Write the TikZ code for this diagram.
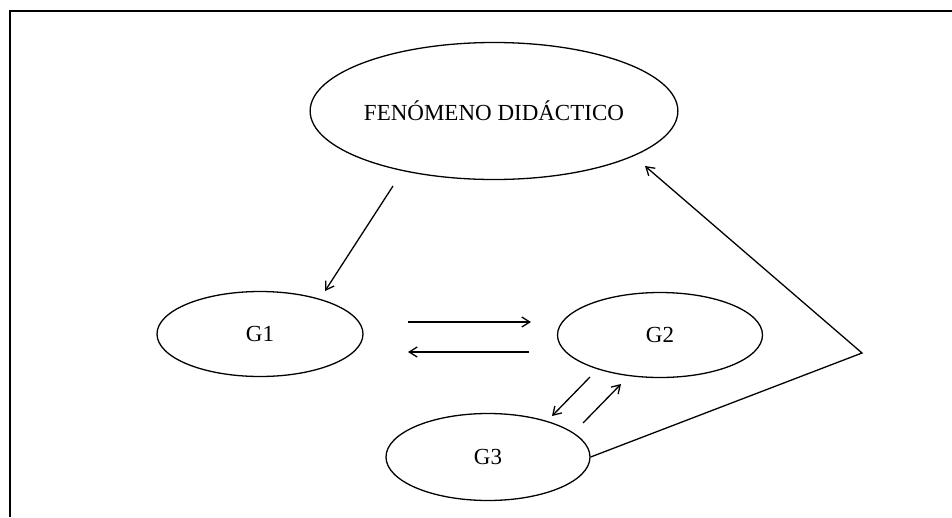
\documentclass[tikz,border=0pt]{standalone}
\usepackage{fontspec}
\setmainfont{Liberation Serif}
\usetikzlibrary{shapes.geometric,arrows.meta}
\begin{document}
\begin{tikzpicture}[x=1pt,y=-1pt,
  lbl/.style={ellipse,draw,line width=1.3pt,inner sep=0pt,font=\fontsize{23}{27}\selectfont},
  arr/.style={line width=1.3pt,-{Straight Barb[length=8pt,width=10pt,line width=1.3pt]}},
  link/.style={line width=1.3pt}]
  \useasboundingbox (0,0) rectangle (952,517);
  % page frame
  \draw[line width=1.8pt] (10,517) -- (10,11) -- (952,11);

  % groups and the phenomenon
  \node[lbl,minimum width=313pt,minimum height=137pt] (fen) at (494,111) {FENÓMENO DIDÁCTICO};
  \node[lbl,minimum width=206pt,minimum height=85pt] (g1) at (260,334) {G1};
  \node[lbl,minimum width=205pt,minimum height=85pt] (g2) at (660,335) {G2};
  \node[lbl,minimum width=204pt,minimum height=87pt] (g3) at (488,457) {G3};

  % connector end points
  \coordinate (fenOut) at (393,186);
  \coordinate (g1In) at (325,291);
  \coordinate (g1R) at (408,322);
  \coordinate (g2L) at (531,322);
  \coordinate (g2Lb) at (529,352);
  \coordinate (g1Rb) at (408,352);
  \coordinate (g2Out) at (590,377);
  \coordinate (g3In) at (552,416);
  \coordinate (g3Out) at (583,423);
  \coordinate (g2In) at (621,384);
  \coordinate (bend) at (862,353);
  \coordinate (fenIn) at (645,166);

  \draw[arr] (fenOut) -- (g1In);
  \draw[arr] (g1R) -- (g2L);
  \draw[arr] (g2Lb) -- (g1Rb);
  \draw[arr] (g2Out) -- (g3In);
  \draw[arr] (g3Out) -- (g2In);
  \draw[arr] (g3.east) -- (bend) -- (fenIn);
\end{tikzpicture}
\end{document}
